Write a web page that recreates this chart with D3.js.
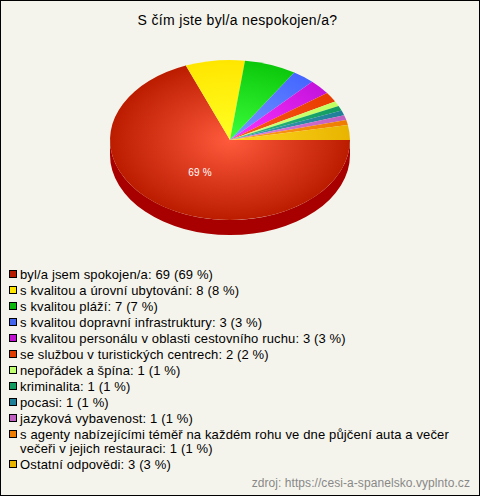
<!DOCTYPE html>
<html><head><meta charset="utf-8">
<script src="https://cdn.jsdelivr.net/npm/d3@7/dist/d3.min.js"></script>
<style>html,body{margin:0;padding:0;background:#f5f4ec}svg{display:block}</style>
</head><body><svg id="c" width="480" height="496"></svg>
<script>
const title = "S čím jste byl/a nespokojen/a?";
const categories = ["byl/a jsem spokojen/a","s kvalitou a úrovní ubytování","s kvalitou pláží","s kvalitou dopravní infrastruktury","s kvalitou personálu v oblasti cestovního ruchu","se službou v turistických centrech","nepořádek a špína","kriminalita","pocasi","jazyková vybavenost",["s agenty nabízejícími téměř na každém rohu ve dne půjčení auta a večer","večeři v jejich restauraci"],"Ostatní odpovědi"];
const values = [69,8,7,3,3,2,1,1,1,1,1,3];
const percents = [69,8,7,3,3,2,1,1,1,1,1,3];
const edgeColors = ["#bb1c00","#ffe600","#0cc80c","#4466ff","#c414dc","#e83c00","#c0ff60","#109a60","#1f7f98","#c060c0","#ee7c00","#e8b400"];
const centerColors = ["#ff5a3c","#ffff22","#3cff3c","#7799ff","#ff33ff","#ff5a1e","#d8ff80","#30c080","#40a0b8","#e080e0","#ffa020","#ffd820"];
const swatchColors = ["#b81c00","#ffe600","#0cb80c","#4466ee","#c010d0","#e03c00","#c0ff70","#109a60","#1f7f98","#c060c0","#ee7c00","#e8b400"];
const sideColor = "#a80000";
const W=480,H=496,cx=230,cy=140,rx=120,ry=80,depth=15;
const svg=d3.select("#c");
svg.append("rect").attr("x",.5).attr("y",.5).attr("width",W-1).attr("height",H-1).attr("fill","#f5f4ec").attr("stroke","#000");
const FONT="Arial,'Liberation Sans',sans-serif";
svg.append("text").attr("x",237.5).attr("y",25).attr("text-anchor","middle").attr("font-family",FONT).attr("font-size",14).attr("letter-spacing",.33).text(title);
const defs=svg.append("defs");
values.forEach((v,i)=>{
  const g=defs.append("radialGradient").attr("id","g"+i).attr("gradientUnits","userSpaceOnUse").attr("cx",0).attr("cy",0).attr("r",1);
  g.append("stop").attr("offset",0).attr("stop-color",centerColors[i]);
  g.append("stop").attr("offset",1).attr("stop-color",edgeColors[i]);
});
const pie=d3.pie().sort(null).startAngle(Math.PI/2).endAngle(Math.PI/2+2*Math.PI)(values);
const arc=d3.arc().innerRadius(0).outerRadius(1);
const root=svg.append("g").attr("transform",`translate(${cx},${cy}) scale(${rx},${ry})`);
const d=depth/ry;
pie.forEach(s=>{
  const a0=Math.max(s.startAngle-Math.PI/2,0),a1=Math.min(s.endAngle-Math.PI/2,Math.PI);
  if(a1<=a0)return;
  const p=d3.path();
  p.arc(0,0,1,a0,a1,false);p.arc(0,d,1,a1,a0,true);p.closePath();
  root.append("path").attr("d",p.toString()).attr("fill",sideColor);
});
root.selectAll("path.s").data(pie).join("path").attr("class","s").attr("d",arc).attr("fill",(s,i)=>`url(#g${i})`);
svg.append("text").attr("x",200).attr("y",176).attr("text-anchor","middle").attr("font-family",FONT).attr("font-size",10).attr("letter-spacing",.2).attr("fill","#fff").text(percents[0]+" %");
const leg=svg.append("g").attr("font-family",FONT).attr("font-size",13).attr("letter-spacing",.14).attr("fill","#000");
let y=274;
categories.forEach((c,i)=>{
  const lines=Array.isArray(c)?c:[c];
  leg.append("rect").attr("x",9.5).attr("y",y-3.5).attr("width",7).attr("height",7).attr("fill",swatchColors[i]).attr("stroke","#000");
  lines.forEach((l,j)=>{
    const isLast=j===lines.length-1;
    leg.append("text").attr("x",20).attr("y",y+5+j*14).text(l+(isLast?`: ${values[i]} (${percents[i]} %)`:""));
  });
  y+=16+(lines.length-1)*14;
});
svg.append("text").attr("x",470).attr("y",487).attr("text-anchor","end").attr("font-family",FONT).attr("font-size",12).attr("letter-spacing",.07).attr("fill","#888").text("zdroj: https://cesi-a-spanelsko.vyplnto.cz");
</script></body></html>
